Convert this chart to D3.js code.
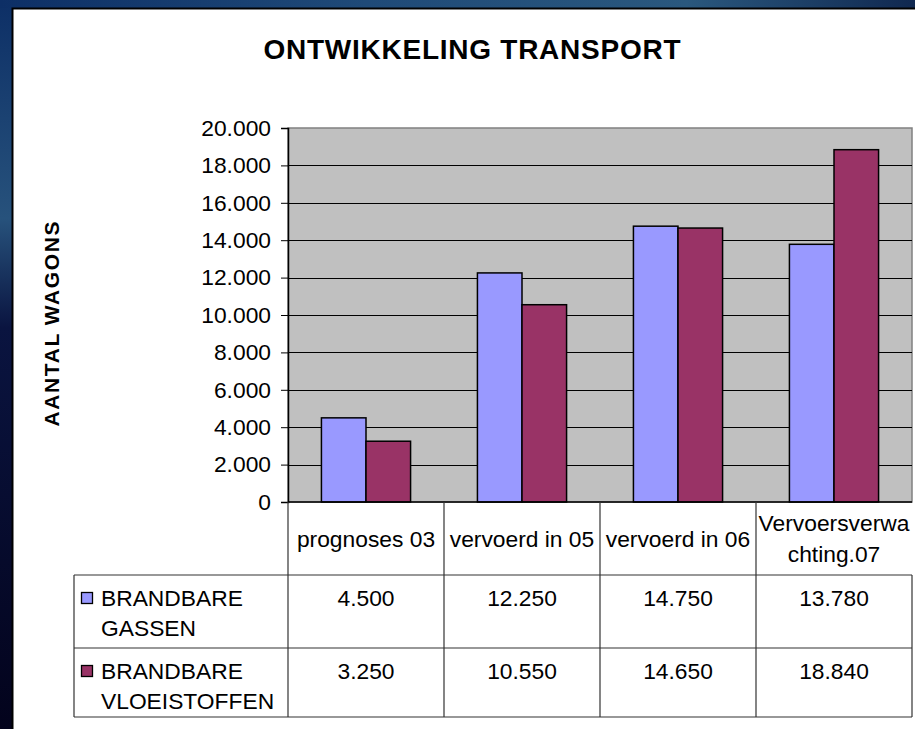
<!DOCTYPE html>
<html>
<head>
<meta charset="utf-8">
<script src="https://cdn.jsdelivr.net/npm/d3@7"></script>
<style>
  html, body { margin: 0; padding: 0; background: #0a1838; }
  svg { display: block; }
  text { font-family: "Liberation Sans", Arial, sans-serif; fill: #000; }
</style>
</head>
<body>
<svg id="chart" width="915" height="729"></svg>
<script>
// ---- data ----
const title = "ONTWIKKELING TRANSPORT";
const yAxisTitle = "AANTAL WAGONS";
const categories = ["prognoses 03", "vervoerd in 05", "vervoerd in 06", "Vervoersverwachting.07"];
const seriesNames = ["BRANDBARE GASSEN", "BRANDBARE VLOEISTOFFEN"];
const gassen = [4500, 12250, 14750, 13780];
const vloeistoffen = [3250, 10550, 14650, 18840];
const yTicks = [0, 2000, 4000, 6000, 8000, 10000, 12000, 14000, 16000, 18000, 20000];
const seriesColors = ["#9999FF", "#993366"];

const seriesValues = [gassen, vloeistoffen];

// ---- layout ----
const W = 915, H = 729;
const plot = { left: 288, right: 912, top: 128, bottom: 502 };
const table = { left: 74, headerBottom: 575, row1Bottom: 648, row2Bottom: 717 };
const FS = 22.8;

const svg = d3.select("#chart");

// background (slide)
const defs = svg.append("defs");
const gLeft = defs.append("linearGradient").attr("id", "bgLeft").attr("x1", 0).attr("y1", 0).attr("x2", 0).attr("y2", 1);
gLeft.append("stop").attr("offset", "0%").attr("stop-color", "#0d2f66");
gLeft.append("stop").attr("offset", "30%").attr("stop-color", "#27527c");
gLeft.append("stop").attr("offset", "45%").attr("stop-color", "#0a1440");
gLeft.append("stop").attr("offset", "100%").attr("stop-color", "#03031c");
svg.append("rect").attr("x", 0).attr("y", 0).attr("width", W).attr("height", H).attr("fill", "url(#bgLeft)");
const gTop = defs.append("linearGradient").attr("id", "bgTop").attr("x1", 0).attr("y1", 0).attr("x2", 1).attr("y2", 0);
gTop.append("stop").attr("offset", "0%").attr("stop-color", "#0d2f66");
gTop.append("stop").attr("offset", "40%").attr("stop-color", "#1f4a78");
gTop.append("stop").attr("offset", "75%").attr("stop-color", "#2a587e");
gTop.append("stop").attr("offset", "100%").attr("stop-color", "#102850");
svg.append("rect").attr("x", 0).attr("y", 0).attr("width", W).attr("height", 8).attr("fill", "url(#bgTop)");

// white chart area
svg.append("rect").attr("x", 12.5).attr("y", 8.5).attr("width", W).attr("height", H)
  .attr("fill", "#fff").attr("stroke", "#000").attr("stroke-width", 2);

// scales
const x0 = d3.scaleBand().domain(categories).range([plot.left, plot.right]).paddingInner(0).paddingOuter(0);
// Excel gap width 150%: band = 2w + 1.5w
const barW = x0.bandwidth() / 3.5;
const y = d3.scaleLinear().domain([0, 20000]).range([plot.bottom, plot.top]);

const nl = d3.formatLocale({ decimal: ",", thousands: ".", grouping: [3], currency: ["€", ""] });
const fmt = nl.format(",d");

// plot area
svg.append("rect").attr("x", plot.left).attr("y", plot.top)
  .attr("width", plot.right - plot.left).attr("height", plot.bottom - plot.top)
  .attr("fill", "#C0C0C0").attr("stroke", "#808080").attr("stroke-width", 1.5);

// gridlines
svg.append("g").selectAll("line").data(yTicks.filter(d => d > 0 && d < 20000)).join("line")
  .attr("x1", plot.left).attr("x2", plot.right)
  .attr("y1", d => Math.round(y(d)) + 0.5).attr("y2", d => Math.round(y(d)) + 0.5)
  .attr("stroke", "#000").attr("stroke-width", 1);

// bars
const groups = svg.append("g").selectAll("g").data(categories).join("g")
  .attr("transform", d => `translate(${x0(d)},0)`);
groups.selectAll("rect").data((d, i) => seriesValues.map((s, k) => ({ k, v: s[i] }))).join("rect")
  .attr("x", d => barW * 0.75 + d.k * barW)
  .attr("y", d => y(d.v))
  .attr("width", barW)
  .attr("height", d => plot.bottom - y(d.v))
  .attr("fill", d => seriesColors[d.k])
  .attr("stroke", "#000").attr("stroke-width", 1.5);

// y axis
const yAxis = d3.axisLeft(y).tickValues(yTicks).tickFormat(fmt).tickSize(7).tickPadding(10);
const ax = svg.append("g").attr("transform", `translate(${plot.left},0)`).call(yAxis);
ax.select(".domain").attr("stroke", "#000").attr("stroke-width", 1.5);
ax.selectAll(".tick line").attr("stroke", "#000");
ax.selectAll(".tick text").attr("font-size", FS).attr("font-family", "Liberation Sans, Arial, sans-serif").attr("fill", "#000");

// x axis baseline
svg.append("line").attr("x1", plot.left).attr("x2", plot.right).attr("y1", plot.bottom).attr("y2", plot.bottom)
  .attr("stroke", "#000").attr("stroke-width", 1.5);

// title
svg.append("text").attr("x", 472).attr("y", 59).attr("text-anchor", "middle")
  .attr("font-size", 28).attr("font-weight", "bold")
  .attr("textLength", 417).attr("lengthAdjust", "spacing").text(title);

// y axis title
svg.append("text").attr("transform", "translate(59,324) rotate(-90)").attr("text-anchor", "middle")
  .attr("font-size", 21).attr("font-weight", "bold")
  .attr("textLength", 205).attr("lengthAdjust", "spacing").text(yAxisTitle);

// data table lines
const tl = svg.append("g").attr("stroke", "#333").attr("stroke-width", 1.2);
const colEdges = categories.map(c => x0(c)).concat([plot.right]);
colEdges.forEach((xv, i) => {
  const isLast = i === colEdges.length - 1;
  tl.append("line").attr("x1", xv).attr("x2", xv)
    .attr("y1", isLast ? table.headerBottom : plot.bottom).attr("y2", table.row2Bottom);
});
tl.append("line").attr("x1", table.left).attr("x2", table.left).attr("y1", table.headerBottom).attr("y2", table.row2Bottom);
[table.headerBottom, table.row1Bottom, table.row2Bottom].forEach(yy => {
  tl.append("line").attr("x1", table.left).attr("x2", plot.right).attr("y1", yy).attr("y2", yy);
});

// header labels with character wrap
const headerG = svg.append("g");
categories.forEach(c => {
  const maxW = x0.bandwidth() - 2;
  const t = headerG.append("text").attr("font-size", FS).attr("text-anchor", "middle");
  const lines = [];
  let cur = "";
  for (const ch of c) {
    t.text(cur + ch);
    if (t.node().getComputedTextLength() > maxW && cur.length) { lines.push(cur); cur = ch; }
    else cur += ch;
  }
  lines.push(cur);
  t.text(null);
  const cx = x0(c) + x0.bandwidth() / 2;
  const cy = (plot.bottom + table.headerBottom) / 2 + 0.5;
  const lh = 31;
  lines.forEach((ln, i) => {
    t.append("tspan").attr("x", cx).attr("y", cy + (i - (lines.length - 1) / 2) * lh).attr("dy", "0.35em").text(ln);
  });
});

// rows: legend keys, names, values
const rowTops = [table.headerBottom, table.row1Bottom];
seriesNames.forEach((name, k) => {
  const firstY = rowTops[k] + 23;
  svg.append("rect").attr("x", 81.5).attr("y", firstY - 5.5).attr("width", 11).attr("height", 11)
    .attr("fill", seriesColors[k]).attr("stroke", "#000").attr("stroke-width", 1.3);
  const words = name.split(" ");
  const t = svg.append("text").attr("font-size", FS);
  words.forEach((w, i) => {
    t.append("tspan").attr("x", 101).attr("y", firstY + i * 30.5).attr("dy", "0.35em").text(w);
  });
  categories.forEach((c, i) => {
    svg.append("text").attr("x", x0(c) + x0.bandwidth() / 2).attr("y", firstY).attr("dy", "0.35em")
      .attr("text-anchor", "middle").attr("font-size", FS).text(fmt(seriesValues[k][i]));
  });
});
</script>
</body>
</html>
